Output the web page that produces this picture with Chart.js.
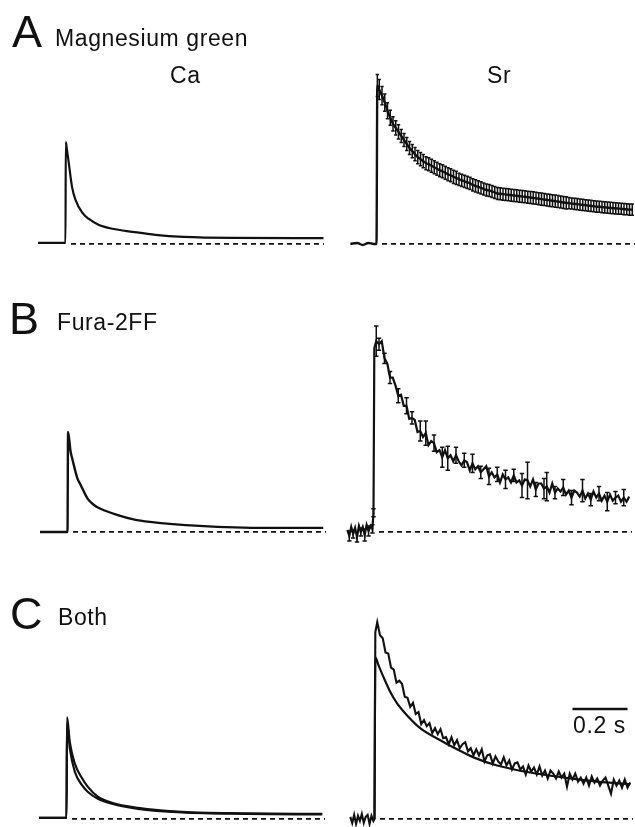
<!DOCTYPE html>
<html>
<head>
<meta charset="utf-8">
<script src="https://cdn.jsdelivr.net/npm/chart.js@4.4.0/dist/chart.umd.min.js"></script>
<style>
  html, body { margin: 0; padding: 0; background: #fff; }
  body { width: 635px; height: 827px; overflow: hidden; position: relative; }
  canvas { position: absolute; }
  .lbl { position: absolute; font-family: "Liberation Sans", Arial, Helvetica, sans-serif; color: #111; line-height: 1; white-space: nowrap; z-index: 2; }
  .big { font-size: 45px; }
  .small { font-size: 23px; letter-spacing: 0.6px; }
</style>
</head>
<body>

<div class="lbl big" style="left:12px; top:9px;">A</div>
<div class="lbl small" style="left:55px; top:27px;">Magnesium green</div>
<div class="lbl small" style="left:170px; top:64px;">Ca</div>
<div class="lbl small" style="left:487px; top:64px;">Sr</div>

<div class="lbl big" style="left:9px; top:296px;">B</div>
<div class="lbl small" style="left:57px; top:311px;">Fura-2FF</div>

<div class="lbl big" style="left:10px; top:591px;">C</div>
<div class="lbl small" style="left:58px; top:606px;">Both</div>

<div class="lbl small" style="left:573px; top:714px;">0.2 s</div>

<script>
// time in s from the stimulus, amplitude normalised to the Ca peak

// Ca traces (smooth, read at a few points)
const aCaT = [-0.1, 0, 0.001, 0.004, 0.012, 0.024, 0.036, 0.061, 0.084, 0.12, 0.171, 0.244, 0.327, 0.429, 0.61, 0.938];
const aCaV = [0.01, 0.01, 1.01, 0.96, 0.80, 0.56, 0.44, 0.31, 0.25, 0.19, 0.15, 0.12, 0.09, 0.07, 0.06, 0.058];

const bCaT = [-0.1, 0, 0.002, 0.011, 0.017, 0.036, 0.047, 0.073, 0.095, 0.12, 0.18, 0.24, 0.30, 0.48, 0.73, 0.93];
const bCaV = [0.0, 0.0, 0.99, 0.80, 0.73, 0.53, 0.47, 0.33, 0.27, 0.23, 0.17, 0.125, 0.10, 0.06, 0.04, 0.04];

const cCaT = [-0.1, 0, 0.002, 0.012, 0.03, 0.055, 0.077, 0.114, 0.165, 0.26, 0.42, 0.65, 0.93];
const cCaFuraV = [0.01, 0.01, 1.01, 0.76, 0.55, 0.41, 0.32, 0.22, 0.16, 0.11, 0.07, 0.055, 0.05];
const cCaMagV = [0.01, 0.01, 0.95, 0.70, 0.47, 0.34, 0.27, 0.20, 0.15, 0.10, 0.065, 0.05, 0.045];

// Sr sample times (after the step)
const sampleT = [
  0.003, 0.01, 0.02, 0.03, 0.04, 0.05, 0.06, 0.07, 0.08, 0.09,
  0.10, 0.11, 0.12, 0.13, 0.14, 0.15, 0.16, 0.17, 0.18, 0.19,
  0.20, 0.21, 0.22, 0.23, 0.24, 0.25, 0.26, 0.27, 0.28, 0.29,
  0.30, 0.31, 0.32, 0.33, 0.34, 0.35, 0.36, 0.37, 0.38, 0.39,
  0.40, 0.41, 0.42, 0.43, 0.44, 0.45, 0.46, 0.47, 0.48, 0.49,
  0.50, 0.51, 0.52, 0.53, 0.54, 0.55, 0.56, 0.57, 0.58, 0.59,
  0.60, 0.61, 0.62, 0.63, 0.64, 0.65, 0.66, 0.67, 0.68, 0.69,
  0.70, 0.71, 0.72, 0.73, 0.74, 0.75, 0.76, 0.77, 0.78, 0.79,
  0.80, 0.81, 0.82, 0.83, 0.84, 0.85, 0.86, 0.87, 0.88, 0.89,
  0.90, 0.91, 0.92, 0.93
];

// A: Magnesium green, Sr (mean +/- error)
const aSrPreT = [-0.095, -0.07, -0.05, -0.03, -0.01, 0.0];
const aSrPreV = [0.0, 0.01, -0.01, 0.01, 0.0, 0.0];
const aSrMean = [
  1.57, 1.53, 1.47, 1.40, 1.32, 1.25, 1.19, 1.15, 1.11, 1.07,
  1.03, 0.99, 0.95, 0.92, 0.89, 0.86, 0.84, 0.82, 0.80, 0.79,
  0.775, 0.76, 0.745, 0.73, 0.72, 0.705, 0.69, 0.68, 0.665, 0.655,
  0.64, 0.63, 0.62, 0.61, 0.60, 0.585, 0.575, 0.565, 0.555, 0.545,
  0.535, 0.53, 0.52, 0.51, 0.50, 0.497, 0.493, 0.49, 0.487, 0.483,
  0.48, 0.477, 0.473, 0.47, 0.467, 0.463, 0.46, 0.456, 0.452, 0.448,
  0.444, 0.44, 0.436, 0.432, 0.428, 0.424, 0.42, 0.416, 0.41, 0.407,
  0.404, 0.40, 0.397, 0.394, 0.39, 0.387, 0.384, 0.38, 0.377, 0.374,
  0.37, 0.368, 0.365, 0.362, 0.36, 0.357, 0.355, 0.352, 0.35, 0.348,
  0.345, 0.343, 0.34, 0.34
];
const aSrErr = [
  0.11, 0.10, 0.09, 0.085, 0.08, 0.075, 0.07, 0.07, 0.07, 0.065,
  0.065, 0.065, 0.065, 0.065, 0.065, 0.065, 0.065, 0.065, 0.065, 0.065,
  0.065, 0.065, 0.065, 0.065, 0.065, 0.065, 0.065, 0.065, 0.065, 0.065,
  0.06, 0.06, 0.06, 0.06, 0.06, 0.06, 0.06, 0.06, 0.06, 0.06,
  0.06, 0.06, 0.06, 0.06, 0.06, 0.06, 0.06, 0.06, 0.06, 0.06,
  0.06, 0.06, 0.06, 0.06, 0.06, 0.06, 0.06, 0.06, 0.06, 0.06,
  0.06, 0.06, 0.06, 0.06, 0.06, 0.06, 0.06, 0.06, 0.06, 0.06,
  0.055, 0.055, 0.055, 0.055, 0.055, 0.055, 0.055, 0.055, 0.055, 0.055,
  0.055, 0.055, 0.055, 0.055, 0.055, 0.055, 0.055, 0.055, 0.055, 0.055,
  0.055, 0.055, 0.055, 0.055
];

// B: Fura-2FF, Sr (noisy mean, scattered error bars)
const bSrPreT = [-0.095, -0.088, -0.081, -0.074, -0.067, -0.060, -0.053, -0.046, -0.039, -0.032, -0.025, -0.018, -0.011, -0.004, 0.0];
const bSrPreV = [0.02, -0.04, 0.05, -0.02, 0.04, -0.05, 0.06, 0.0, 0.05, -0.03, 0.07, 0.01, 0.06, 0.03, 0.19];
const bSrPreErr = [0, 0.05, 0, 0.04, 0, 0.05, 0, 0.04, 0, 0.06, 0, 0.05, 0, 0.04, 0.04];
const bSrMean = [
  1.82, 1.89, 1.86, 1.89, 1.72, 1.67, 1.53, 1.53, 1.45, 1.35,
  1.36, 1.25, 1.25, 1.12, 1.13, 1.11, 0.99, 1.00, 0.94, 0.98,
  0.86, 0.90, 0.88, 0.79, 0.81, 0.74, 0.81, 0.73, 0.76, 0.70,
  0.76, 0.70, 0.66, 0.71, 0.69, 0.61, 0.68, 0.62, 0.65, 0.59,
  0.62, 0.65, 0.55, 0.59, 0.54, 0.57, 0.49, 0.57, 0.52, 0.54,
  0.49, 0.56, 0.49, 0.51, 0.46, 0.52, 0.51, 0.45, 0.52, 0.42,
  0.48, 0.48, 0.43, 0.45, 0.39, 0.48, 0.39, 0.43, 0.40, 0.44,
  0.37, 0.41, 0.34, 0.41, 0.39, 0.35, 0.41, 0.33, 0.38, 0.32,
  0.40, 0.34, 0.38, 0.31, 0.36, 0.30, 0.37, 0.31, 0.34, 0.36,
  0.30, 0.34, 0.30, 0.35
];
const bSrErr = [
  0, 0.15, 0.06, 0, 0.05, 0, 0.06, 0, 0, 0.07,
  0, 0, 0.08, 0, 0.06, 0, 0, 0.10, 0, 0.12,
  0, 0, 0.08, 0, 0, 0.10, 0, 0.12, 0, 0,
  0.08, 0, 0, 0.07, 0, 0, 0.09, 0, 0, 0.06,
  0, 0, 0.08, 0, 0, 0.07, 0, 0, 0.09, 0,
  0, 0.06, 0, 0, 0.12, 0, 0.18, 0, 0, 0.07,
  0, 0, 0.10, 0.14, 0, 0, 0.06, 0, 0, 0.08,
  0, 0, 0.07, 0, 0, 0, 0.11, 0, 0, 0.06,
  0, 0, 0.07, 0, 0, 0.09, 0, 0, 0.06, 0,
  0, 0.08, 0, 0
];

// C: both dyes, Sr
const cSrPreT = [-0.088, -0.081, -0.074, -0.067, -0.060, -0.053, -0.046, -0.039, -0.032, -0.025, -0.018, -0.011, -0.004, 0.0];
const cSrPreV = [0.02, -0.04, 0.04, -0.05, 0.03, -0.02, 0.05, -0.04, 0.02, 0.04, -0.05, 0.03, -0.02, 0.0];
const cSrFuraV = [
  1.85, 1.95, 1.82, 1.79, 1.65, 1.64, 1.50, 1.48, 1.35, 1.37,
  1.34, 1.21, 1.20, 1.11, 1.15, 1.04, 1.06, 0.94, 0.98, 0.92,
  0.95, 0.85, 0.90, 0.84, 0.89, 0.80, 0.81, 0.74, 0.81, 0.73,
  0.78, 0.70, 0.74, 0.76, 0.67, 0.70, 0.63, 0.69, 0.63, 0.69,
  0.57, 0.63, 0.64, 0.55, 0.62, 0.57, 0.54, 0.61, 0.53, 0.58,
  0.49, 0.55, 0.56, 0.49, 0.52, 0.44, 0.53, 0.47, 0.51, 0.44,
  0.52, 0.43, 0.48, 0.40, 0.48, 0.45, 0.40, 0.47, 0.41, 0.45,
  0.32, 0.45, 0.39, 0.45, 0.37, 0.41, 0.35, 0.41, 0.33, 0.42,
  0.36, 0.40, 0.33, 0.38, 0.41, 0.33, 0.25, 0.39, 0.33, 0.38,
  0.31, 0.39, 0.31, 0.36
];
const cSrMagT = [0, 0.003, 0.015, 0.032, 0.057, 0.081, 0.117, 0.166, 0.239, 0.30, 0.36, 0.446, 0.566, 0.69, 0.81, 0.93];
const cSrMagV = [0, 1.60, 1.52, 1.41, 1.26, 1.15, 1.03, 0.90, 0.78, 0.69, 0.61, 0.53, 0.46, 0.41, 0.37, 0.345];

// zero line and scale bar
const zeroT = [0.02, 0.94];
const scaleBarT = [0.72, 0.92];
const scaleBarLevel = 1.09;

// axis ranges shared by all six traces
const X_MIN = -0.1, X_MAX = 0.94;
const Y_MIN = -0.07, Y_MAX = 2.1;

// page geometry
const PAD = 6;
const PLOT_W = 286, PLOT_H = 219;
const PX_PER_S = PLOT_W / (X_MAX - X_MIN);
const PX_PER_UNIT = PLOT_H / (Y_MAX - Y_MIN);
const INK = '#111';

function pts(ts, vs) {
  return ts.map((t, i) => ({ x: t, y: vs[i] }));
}

function errPts(ts, vs, es) {
  return ts.map((t, i) => ({ x: t, y: vs[i], e: es[i] }));
}

function smoothLine(ts, vs, width) {
  return { data: pts(ts, vs), borderColor: INK, borderWidth: width, cubicInterpolationMode: 'monotone', clip: false };
}

function noisyLine(ts, vs, width) {
  return { data: pts(ts, vs), borderColor: INK, borderWidth: width, tension: 0, clip: false };
}

function zeroLine() {
  return { data: pts(zeroT, [0, 0]), borderColor: INK, borderWidth: 1.8, borderDash: [5, 4], clip: false };
}

// draws vertical error bars with caps, using the chart scales
const errorBarPlugin = {
  id: 'errorBars',
  afterDatasetsDraw(chart) {
    const ctx = chart.ctx;
    const xs = chart.scales.x, ys = chart.scales.y;
    chart.data.datasets.forEach(ds => {
      if (!ds.errorBars) return;
      const cap = ds.capWidth || 1.5;
      ctx.save();
      ctx.strokeStyle = INK;
      ctx.lineWidth = ds.barWidth || 1.3;
      ds.errorBars.forEach(p => {
        if (!p.e) return;
        const x = xs.getPixelForValue(p.x);
        const y1 = ys.getPixelForValue(p.y + p.e);
        const y2 = ys.getPixelForValue(p.y - p.e);
        ctx.beginPath();
        ctx.moveTo(x, y1); ctx.lineTo(x, y2);
        ctx.moveTo(x - cap, y1); ctx.lineTo(x + cap, y1);
        ctx.moveTo(x - cap, y2); ctx.lineTo(x + cap, y2);
        ctx.stroke();
      });
      ctx.restore();
    });
  }
};

// one small chart per trace panel; stepX/baseY are where t=0 and zero sit on the page
function addChart(stepX, baseY, datasets) {
  const canvas = document.createElement('canvas');
  canvas.width = PLOT_W + 2 * PAD;
  canvas.height = PLOT_H + 2 * PAD;
  canvas.style.left = (stepX + X_MIN * PX_PER_S - PAD) + 'px';
  canvas.style.top = (baseY - Y_MAX * PX_PER_UNIT - PAD) + 'px';
  document.body.appendChild(canvas);

  new Chart(canvas, {
    type: 'line',
    data: { datasets: datasets },
    options: {
      responsive: false,
      animation: false,
      devicePixelRatio: 1,
      layout: { padding: PAD },
      elements: { point: { radius: 0 } },
      scales: {
        x: { type: 'linear', min: X_MIN, max: X_MAX, display: false },
        y: { type: 'linear', min: Y_MIN, max: Y_MAX, display: false }
      },
      plugins: { legend: { display: false }, tooltip: { enabled: false } }
    },
    plugins: [errorBarPlugin]
  });
}

// A
addChart(65, 244, [zeroLine(), smoothLine(aCaT, aCaV, 2.2)]);

const aSr = smoothLine(aSrPreT.concat(sampleT), aSrPreV.concat(aSrMean), 2.4);
aSr.errorBars = errPts(sampleT, aSrMean, aSrErr);
aSr.capWidth = 1.7;
aSr.barWidth = 1.5;
addChart(376, 244, [zeroLine(), aSr]);

// B
addChart(67, 532, [zeroLine(), smoothLine(bCaT, bCaV, 2.4)]);

const bSr = noisyLine(bSrPreT.concat(sampleT), bSrPreV.concat(bSrMean), 2.2);
bSr.errorBars = errPts(bSrPreT.concat(sampleT), bSrPreV.concat(bSrMean), bSrPreErr.concat(bSrErr));
bSr.capWidth = 2.2;
bSr.barWidth = 1.5;
addChart(373.3, 532, [zeroLine(), bSr]);

// C
addChart(66.7, 819, [zeroLine(), smoothLine(cCaT, cCaFuraV, 2.2), smoothLine(cCaT, cCaMagV, 2.2)]);

const scaleBar = { data: pts(scaleBarT, [scaleBarLevel, scaleBarLevel]), borderColor: INK, borderWidth: 2.4, clip: false };
addChart(374.3, 819, [
  zeroLine(),
  noisyLine(cSrPreT.concat(sampleT), cSrPreV.concat(cSrFuraV), 2.1),
  smoothLine(cSrMagT, cSrMagV, 2.2),
  scaleBar
]);
</script>
</body>
</html>
